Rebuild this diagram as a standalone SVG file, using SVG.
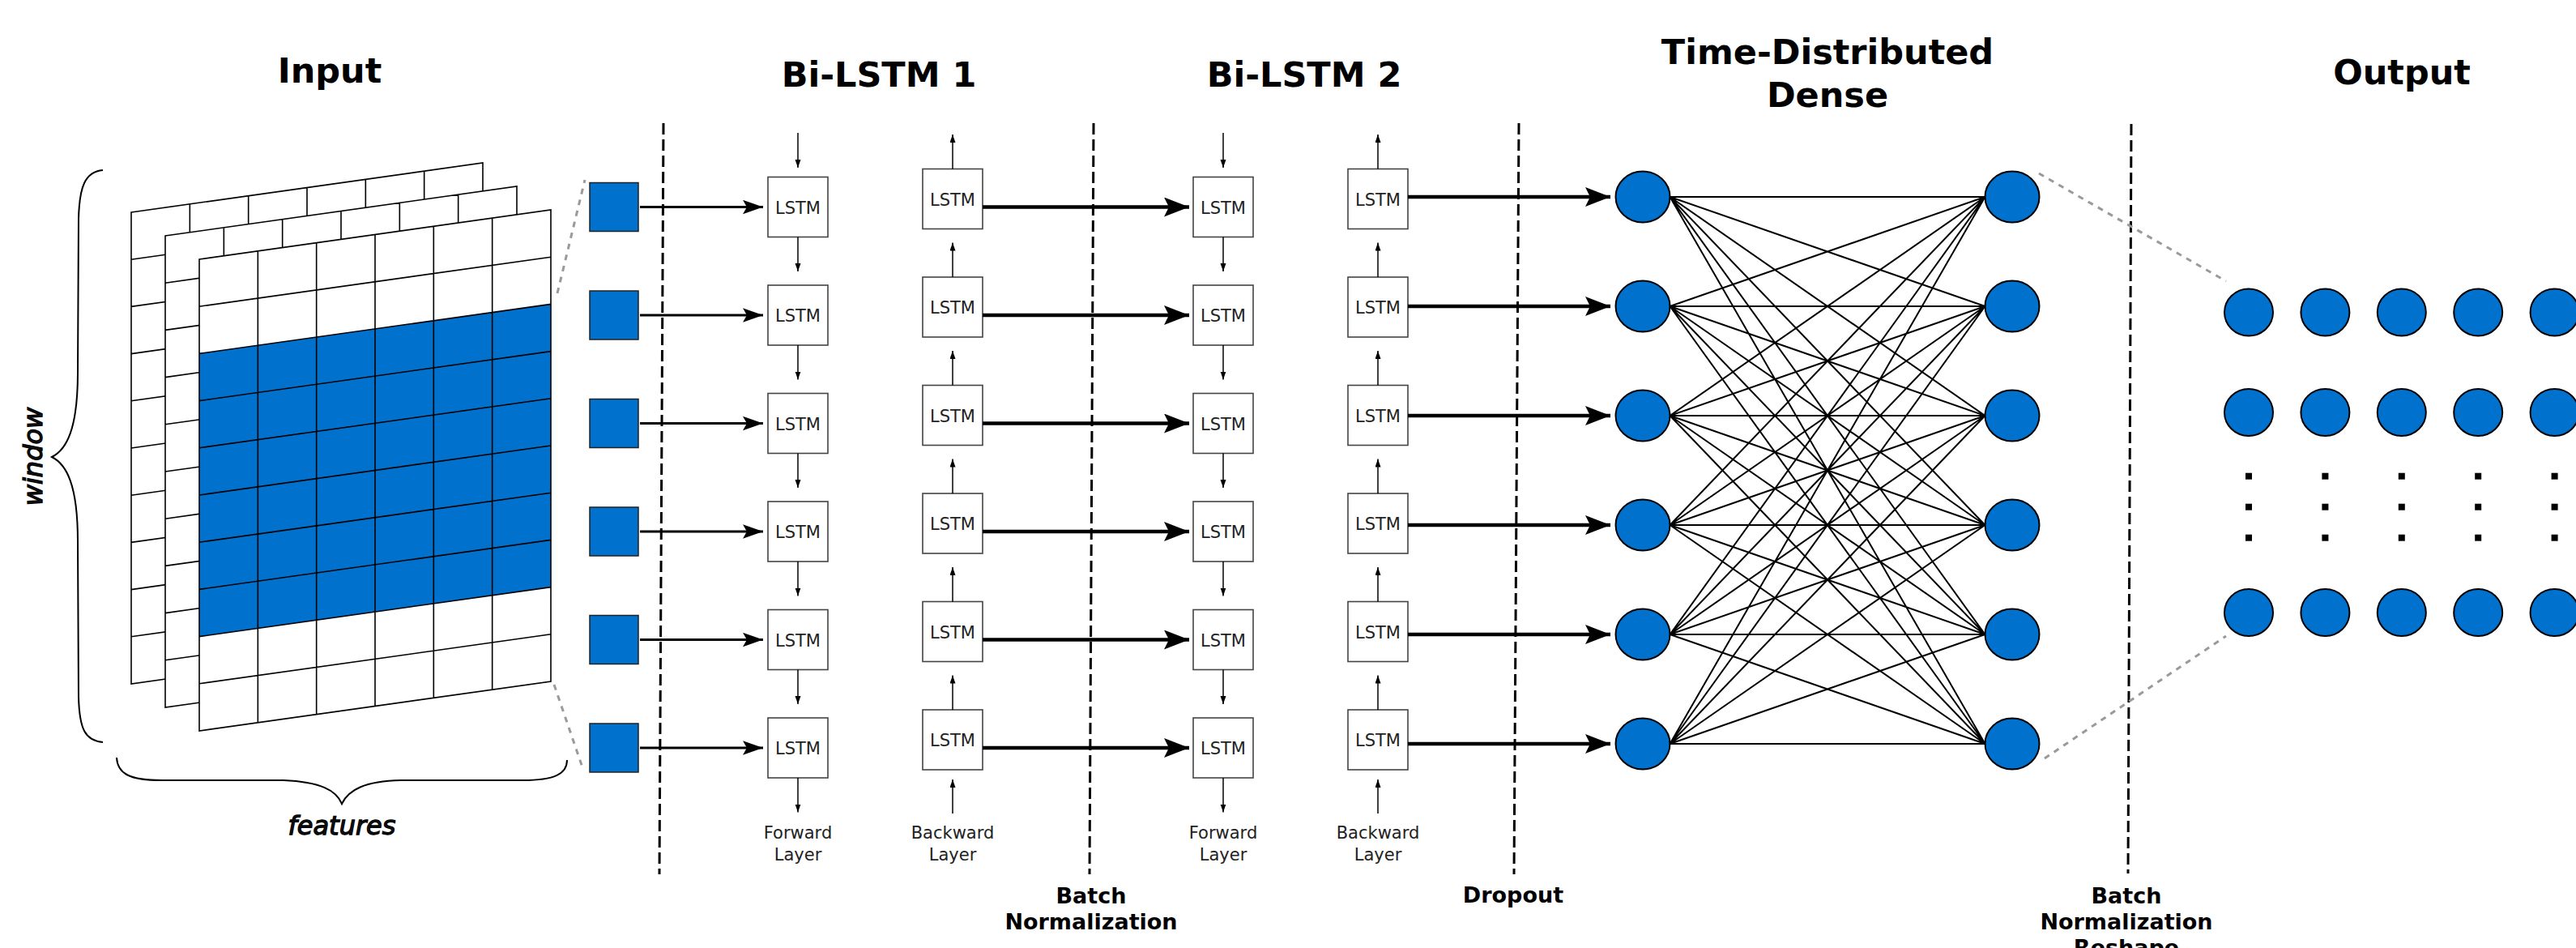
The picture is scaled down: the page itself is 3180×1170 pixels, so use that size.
<svg xmlns="http://www.w3.org/2000/svg" xmlns:xlink="http://www.w3.org/1999/xlink" width="3180" height="1170" viewBox="0 0 3180 1170">
  <style>
    .title { font-family: "DejaVu Sans", "Liberation Sans", sans-serif; font-weight: bold; font-size: 43px; text-anchor: middle; fill: #000; }
    .lbl { font-family: "DejaVu Sans", "Liberation Sans", sans-serif; font-weight: bold; font-size: 27px; text-anchor: middle; fill: #000; }
    .sub { font-family: "DejaVu Sans", "Liberation Sans", sans-serif; font-size: 21px; text-anchor: middle; fill: #222; }
    .cell { font-family: "DejaVu Sans", "Liberation Sans", sans-serif; font-size: 21px; text-anchor: middle; fill: #222; }
    .axis { font-family: "DejaVu Sans", "Liberation Sans", sans-serif; font-style: italic; font-size: 32px; text-anchor: middle; fill: #111; stroke: #000; stroke-width: 1.3; }
    .box { fill: #fff; stroke: #444; stroke-width: 1.6; }
    .sq { fill: #0071cd; stroke: #222; stroke-width: 1.5; }
    .node { fill: #0071cd; stroke: #000; stroke-width: 2; }
    .sheet { fill: #fff; }
    .grid { fill: none; stroke: #000; stroke-width: 1.6; }
    .blue { fill: #0071cd; }
    .brace { fill: none; stroke: #000; stroke-width: 2; }
    .sep { fill: none; stroke: #000; stroke-width: 3; stroke-dasharray: 14 6; }
    .dot { fill: none; stroke: #9a9a9a; stroke-width: 3; stroke-dasharray: 7 7; }
    .thin { fill: none; stroke: #000; stroke-width: 1.5; marker-end: url(#ah-s); }
    .mid { fill: none; stroke: #000; stroke-width: 3; marker-end: url(#ah-m); }
    .thick { fill: none; stroke: #000; stroke-width: 4.5; marker-end: url(#ah-l); }
    .fc { fill: none; stroke: #000; stroke-width: 2; }
  </style>
  <defs>
    <marker id="ah-s" markerUnits="userSpaceOnUse" markerWidth="10" markerHeight="8" refX="10" refY="3.5" orient="auto">
      <path d="M0,0 L10,3.5 L0,7 z" fill="#000"/>
    </marker>
    <marker id="ah-m" markerUnits="userSpaceOnUse" markerWidth="26" markerHeight="18" refX="25" refY="8.7" orient="auto">
      <path d="M0,0 L25,8.7 L0,17.4 L5,8.7 z" fill="#000"/>
    </marker>
    <marker id="ah-l" markerUnits="userSpaceOnUse" markerWidth="32" markerHeight="25" refX="31" refY="12" orient="auto">
      <path d="M0,0 L31,12 L0,24 L6,12 z" fill="#000"/>
    </marker>
    <!-- one sheet of the input tensor, drawn at its top-left corner -->
    <polygon id="sheet-fill" class="sheet" points="0,0 434,-61 434,521 0,582"/>
    <path id="sheet-lines" class="grid" d="M0,0 L434,-61 L434,521 L0,582 Z
      M72.33,-10.17 v582 M144.67,-20.33 v582 M217,-30.5 v582 M289.33,-40.67 v582 M361.67,-50.83 v582
      M0,58.2 l434,-61 M0,116.4 l434,-61 M0,174.6 l434,-61 M0,232.8 l434,-61 M0,291 l434,-61
      M0,349.2 l434,-61 M0,407.4 l434,-61 M0,465.6 l434,-61 M0,523.8 l434,-61"/>
  </defs>

  <rect width="3180" height="1170" fill="#fff"/>

  <!-- section titles -->
  <g id="titles">
    <text class="title" x="407" y="102">Input</text>
    <text class="title" x="1085" y="107">Bi-LSTM 1</text>
    <text class="title" x="1610" y="107">Bi-LSTM 2</text>
    <text class="title" x="2256" y="79">Time-Distributed</text>
    <text class="title" x="2256" y="132">Dense</text>
    <text class="title" x="2965" y="104">Output</text>
  </g>

  <!-- input tensor: three stacked sheets, window rows highlighted on the front one -->
  <g id="input-tensor">
    <g transform="translate(162,262)"><use xlink:href="#sheet-fill"/><use xlink:href="#sheet-lines"/></g>
    <g transform="translate(204,291)"><use xlink:href="#sheet-fill"/><use xlink:href="#sheet-lines"/></g>
    <g transform="translate(246,320)">
      <use xlink:href="#sheet-fill"/>
      <polygon class="blue" points="0,116.4 434,55.4 434,404.6 0,465.6"/>
      <use xlink:href="#sheet-lines"/>
    </g>
    <path class="brace" d="M127,210 C105,212 98,230 97,270 L96,460 C96,530 82,555 64,564 C82,573 96,598 96,668 L97,860 C98,900 105,914 127,916"/>
    <text class="axis" transform="translate(52,563.5) rotate(-90)">window</text>
    <path class="brace" d="M144,935 C145,955 160,963 200,963 L350,963 C395,965 415,975 422,992 C430,975 450,964 495,963 L645,963 C685,963 700,955 700,938"/>
    <text class="axis" x="422" y="1030">features</text>
  </g>

  <!-- per-timestep input vectors -->
  <g id="in-1"><rect class="sq" x="728" y="225.5" width="60" height="60"/></g>
  <g id="in-2"><rect class="sq" x="728" y="359" width="60" height="60"/></g>
  <g id="in-3"><rect class="sq" x="728" y="492.5" width="60" height="60"/></g>
  <g id="in-4"><rect class="sq" x="728" y="626" width="60" height="60"/></g>
  <g id="in-5"><rect class="sq" x="728" y="759.5" width="60" height="60"/></g>
  <g id="in-6"><rect class="sq" x="728" y="893" width="60" height="60"/></g>

  <!-- Bi-LSTM 1, forward layer -->
  <g id="l1-fwd-1"><rect class="box" x="948" y="218.5" width="74" height="74"/><text class="cell" x="985" y="263.5">LSTM</text></g>
  <g id="l1-fwd-2"><rect class="box" x="948" y="352" width="74" height="74"/><text class="cell" x="985" y="397">LSTM</text></g>
  <g id="l1-fwd-3"><rect class="box" x="948" y="485.5" width="74" height="74"/><text class="cell" x="985" y="530.5">LSTM</text></g>
  <g id="l1-fwd-4"><rect class="box" x="948" y="619" width="74" height="74"/><text class="cell" x="985" y="664">LSTM</text></g>
  <g id="l1-fwd-5"><rect class="box" x="948" y="752.5" width="74" height="74"/><text class="cell" x="985" y="797.5">LSTM</text></g>
  <g id="l1-fwd-6"><rect class="box" x="948" y="886" width="74" height="74"/><text class="cell" x="985" y="931">LSTM</text></g>
  <!-- Bi-LSTM 1, backward layer -->
  <g id="l1-bwd-1"><rect class="box" x="1139" y="208.5" width="74" height="74"/><text class="cell" x="1176" y="253.5">LSTM</text></g>
  <g id="l1-bwd-2"><rect class="box" x="1139" y="342" width="74" height="74"/><text class="cell" x="1176" y="387">LSTM</text></g>
  <g id="l1-bwd-3"><rect class="box" x="1139" y="475.5" width="74" height="74"/><text class="cell" x="1176" y="520.5">LSTM</text></g>
  <g id="l1-bwd-4"><rect class="box" x="1139" y="609" width="74" height="74"/><text class="cell" x="1176" y="654">LSTM</text></g>
  <g id="l1-bwd-5"><rect class="box" x="1139" y="742.5" width="74" height="74"/><text class="cell" x="1176" y="787.5">LSTM</text></g>
  <g id="l1-bwd-6"><rect class="box" x="1139" y="876" width="74" height="74"/><text class="cell" x="1176" y="921">LSTM</text></g>
  <!-- Bi-LSTM 2, forward layer -->
  <g id="l2-fwd-1"><rect class="box" x="1473" y="218.5" width="74" height="74"/><text class="cell" x="1510" y="263.5">LSTM</text></g>
  <g id="l2-fwd-2"><rect class="box" x="1473" y="352" width="74" height="74"/><text class="cell" x="1510" y="397">LSTM</text></g>
  <g id="l2-fwd-3"><rect class="box" x="1473" y="485.5" width="74" height="74"/><text class="cell" x="1510" y="530.5">LSTM</text></g>
  <g id="l2-fwd-4"><rect class="box" x="1473" y="619" width="74" height="74"/><text class="cell" x="1510" y="664">LSTM</text></g>
  <g id="l2-fwd-5"><rect class="box" x="1473" y="752.5" width="74" height="74"/><text class="cell" x="1510" y="797.5">LSTM</text></g>
  <g id="l2-fwd-6"><rect class="box" x="1473" y="886" width="74" height="74"/><text class="cell" x="1510" y="931">LSTM</text></g>
  <!-- Bi-LSTM 2, backward layer -->
  <g id="l2-bwd-1"><rect class="box" x="1664" y="208.5" width="74" height="74"/><text class="cell" x="1701" y="253.5">LSTM</text></g>
  <g id="l2-bwd-2"><rect class="box" x="1664" y="342" width="74" height="74"/><text class="cell" x="1701" y="387">LSTM</text></g>
  <g id="l2-bwd-3"><rect class="box" x="1664" y="475.5" width="74" height="74"/><text class="cell" x="1701" y="520.5">LSTM</text></g>
  <g id="l2-bwd-4"><rect class="box" x="1664" y="609" width="74" height="74"/><text class="cell" x="1701" y="654">LSTM</text></g>
  <g id="l2-bwd-5"><rect class="box" x="1664" y="742.5" width="74" height="74"/><text class="cell" x="1701" y="787.5">LSTM</text></g>
  <g id="l2-bwd-6"><rect class="box" x="1664" y="876" width="74" height="74"/><text class="cell" x="1701" y="921">LSTM</text></g>

  <g id="layer-captions">
    <text class="sub" x="985" y="1035">Forward</text><text class="sub" x="985" y="1062">Layer</text>
    <text class="sub" x="1176" y="1035">Backward</text><text class="sub" x="1176" y="1062">Layer</text>
    <text class="sub" x="1510" y="1035">Forward</text><text class="sub" x="1510" y="1062">Layer</text>
    <text class="sub" x="1701" y="1035">Backward</text><text class="sub" x="1701" y="1062">Layer</text>
  </g>

  <!-- stage separators and their captions -->
  <g id="separators">
    <path class="sep" d="M819,152 L814,1079"/>
    <path class="sep" d="M1350,152 L1345,1079"/>
    <path class="sep" d="M1875,152 L1869,1079"/>
    <path class="sep" d="M2631,153 L2627,1078"/>
    <text class="lbl" x="1347" y="1115">Batch</text>
    <text class="lbl" x="1347" y="1147">Normalization</text>
    <text class="lbl" x="1868" y="1114">Dropout</text>
    <text class="lbl" x="2625" y="1115">Batch</text>
    <text class="lbl" x="2625" y="1147">Normalization</text>
    <text class="lbl" x="2625" y="1179">Reshape</text>
  </g>

  <!-- dense layer neurons -->
  <g id="d-in-1"><ellipse class="node" cx="2028" cy="243" rx="33.5" ry="31.5"/></g>
  <g id="d-in-2"><ellipse class="node" cx="2028" cy="378" rx="33.5" ry="31.5"/></g>
  <g id="d-in-3"><ellipse class="node" cx="2028" cy="513" rx="33.5" ry="31.5"/></g>
  <g id="d-in-4"><ellipse class="node" cx="2028" cy="648" rx="33.5" ry="31.5"/></g>
  <g id="d-in-5"><ellipse class="node" cx="2028" cy="783" rx="33.5" ry="31.5"/></g>
  <g id="d-in-6"><ellipse class="node" cx="2028" cy="918" rx="33.5" ry="31.5"/></g>
  <g id="d-out-1"><ellipse class="node" cx="2484" cy="243" rx="33.5" ry="31.5"/></g>
  <g id="d-out-2"><ellipse class="node" cx="2484" cy="378" rx="33.5" ry="31.5"/></g>
  <g id="d-out-3"><ellipse class="node" cx="2484" cy="513" rx="33.5" ry="31.5"/></g>
  <g id="d-out-4"><ellipse class="node" cx="2484" cy="648" rx="33.5" ry="31.5"/></g>
  <g id="d-out-5"><ellipse class="node" cx="2484" cy="783" rx="33.5" ry="31.5"/></g>
  <g id="d-out-6"><ellipse class="node" cx="2484" cy="918" rx="33.5" ry="31.5"/></g>

  <!-- reshaped output grid -->
  <g id="output-grid">
    <ellipse class="node" cx="2776" cy="385.5" rx="30" ry="29"/>
    <ellipse class="node" cx="2870.4" cy="385.5" rx="30" ry="29"/>
    <ellipse class="node" cx="2964.8" cy="385.5" rx="30" ry="29"/>
    <ellipse class="node" cx="3059.2" cy="385.5" rx="30" ry="29"/>
    <ellipse class="node" cx="3153.6" cy="385.5" rx="30" ry="29"/>
    <ellipse class="node" cx="2776" cy="509" rx="30" ry="29"/>
    <ellipse class="node" cx="2870.4" cy="509" rx="30" ry="29"/>
    <ellipse class="node" cx="2964.8" cy="509" rx="30" ry="29"/>
    <ellipse class="node" cx="3059.2" cy="509" rx="30" ry="29"/>
    <ellipse class="node" cx="3153.6" cy="509" rx="30" ry="29"/>
    <ellipse class="node" cx="2776" cy="756" rx="30" ry="29"/>
    <ellipse class="node" cx="2870.4" cy="756" rx="30" ry="29"/>
    <ellipse class="node" cx="2964.8" cy="756" rx="30" ry="29"/>
    <ellipse class="node" cx="3059.2" cy="756" rx="30" ry="29"/>
    <ellipse class="node" cx="3153.6" cy="756" rx="30" ry="29"/>
    <g fill="#000">
      <rect x="2772" y="583.7" width="8" height="8"/><rect x="2772" y="621.7" width="8" height="8"/><rect x="2772" y="659.7" width="8" height="8"/>
      <rect x="2866.4" y="583.7" width="8" height="8"/><rect x="2866.4" y="621.7" width="8" height="8"/><rect x="2866.4" y="659.7" width="8" height="8"/>
      <rect x="2960.8" y="583.7" width="8" height="8"/><rect x="2960.8" y="621.7" width="8" height="8"/><rect x="2960.8" y="659.7" width="8" height="8"/>
      <rect x="3055.2" y="583.7" width="8" height="8"/><rect x="3055.2" y="621.7" width="8" height="8"/><rect x="3055.2" y="659.7" width="8" height="8"/>
      <rect x="3149.6" y="583.7" width="8" height="8"/><rect x="3149.6" y="621.7" width="8" height="8"/><rect x="3149.6" y="659.7" width="8" height="8"/>
    </g>
  </g>

  <g id="connectors">
    <!-- zoom guides -->
    <path class="dot" d="M688,362 L722,222"/>
    <path class="dot" d="M684,845 L720,950"/>
    <path class="dot" d="M2517,214 L2748,347"/>
    <path class="dot" d="M2524,936 L2748,785"/>

    <!-- input vectors into forward cells -->
    <path class="mid" d="M790,255.5 H942"/>
    <path class="mid" d="M790,389 H942"/>
    <path class="mid" d="M790,522.5 H942"/>
    <path class="mid" d="M790,656 H942"/>
    <path class="mid" d="M790,789.5 H942"/>
    <path class="mid" d="M790,923 H942"/>

    <!-- recurrent flow, Bi-LSTM 1 forward layer (downwards) -->
    <path class="thin" d="M985,164 V207"/>
    <path class="thin" d="M985,292.5 V335"/>
    <path class="thin" d="M985,426 V468.5"/>
    <path class="thin" d="M985,559.5 V602"/>
    <path class="thin" d="M985,693 V735.5"/>
    <path class="thin" d="M985,826.5 V869"/>
    <path class="thin" d="M985,960 V1002.5"/>
    <!-- recurrent flow, Bi-LSTM 2 forward layer (downwards) -->
    <path class="thin" d="M1510,164 V207"/>
    <path class="thin" d="M1510,292.5 V335"/>
    <path class="thin" d="M1510,426 V468.5"/>
    <path class="thin" d="M1510,559.5 V602"/>
    <path class="thin" d="M1510,693 V735.5"/>
    <path class="thin" d="M1510,826.5 V869"/>
    <path class="thin" d="M1510,960 V1002.5"/>
    <!-- recurrent flow, Bi-LSTM 1 backward layer (upwards) -->
    <path class="thin" d="M1176,208.5 V166"/>
    <path class="thin" d="M1176,342 V299.5"/>
    <path class="thin" d="M1176,475.5 V433"/>
    <path class="thin" d="M1176,609 V566.5"/>
    <path class="thin" d="M1176,742.5 V700"/>
    <path class="thin" d="M1176,876 V833.5"/>
    <path class="thin" d="M1176,1004 V962"/>
    <!-- recurrent flow, Bi-LSTM 2 backward layer (upwards) -->
    <path class="thin" d="M1701,208.5 V166"/>
    <path class="thin" d="M1701,342 V299.5"/>
    <path class="thin" d="M1701,475.5 V433"/>
    <path class="thin" d="M1701,609 V566.5"/>
    <path class="thin" d="M1701,742.5 V700"/>
    <path class="thin" d="M1701,876 V833.5"/>
    <path class="thin" d="M1701,1004 V962"/>

    <!-- Bi-LSTM 1 into Bi-LSTM 2 -->
    <path class="thick" d="M1213,255.5 H1468"/>
    <path class="thick" d="M1213,389 H1468"/>
    <path class="thick" d="M1213,522.5 H1468"/>
    <path class="thick" d="M1213,656 H1468"/>
    <path class="thick" d="M1213,789.5 H1468"/>
    <path class="thick" d="M1213,923 H1468"/>

    <!-- Bi-LSTM 2 into dense inputs -->
    <path class="thick" d="M1738,243 H1988"/>
    <path class="thick" d="M1738,378 H1988"/>
    <path class="thick" d="M1738,513 H1988"/>
    <path class="thick" d="M1738,648 H1988"/>
    <path class="thick" d="M1738,783 H1988"/>
    <path class="thick" d="M1738,918 H1988"/>

    <!-- fully connected dense weights -->
    <path class="fc" d="
      M2061.5,243 L2450.5,243 M2061.5,243 L2450.5,378 M2061.5,243 L2450.5,513 M2061.5,243 L2450.5,648 M2061.5,243 L2450.5,783 M2061.5,243 L2450.5,918
      M2061.5,378 L2450.5,243 M2061.5,378 L2450.5,378 M2061.5,378 L2450.5,513 M2061.5,378 L2450.5,648 M2061.5,378 L2450.5,783 M2061.5,378 L2450.5,918
      M2061.5,513 L2450.5,243 M2061.5,513 L2450.5,378 M2061.5,513 L2450.5,513 M2061.5,513 L2450.5,648 M2061.5,513 L2450.5,783 M2061.5,513 L2450.5,918
      M2061.5,648 L2450.5,243 M2061.5,648 L2450.5,378 M2061.5,648 L2450.5,513 M2061.5,648 L2450.5,648 M2061.5,648 L2450.5,783 M2061.5,648 L2450.5,918
      M2061.5,783 L2450.5,243 M2061.5,783 L2450.5,378 M2061.5,783 L2450.5,513 M2061.5,783 L2450.5,648 M2061.5,783 L2450.5,783 M2061.5,783 L2450.5,918
      M2061.5,918 L2450.5,243 M2061.5,918 L2450.5,378 M2061.5,918 L2450.5,513 M2061.5,918 L2450.5,648 M2061.5,918 L2450.5,783 M2061.5,918 L2450.5,918"/>
  </g>
</svg>
